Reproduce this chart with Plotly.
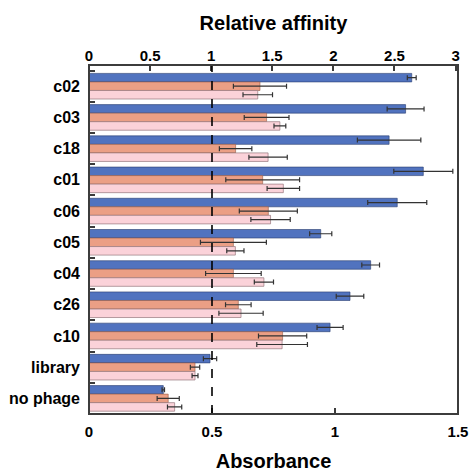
import plotly.graph_objects as go

categories = ["c02", "c03", "c18", "c01", "c06", "c05", "c04", "c26", "c10", "library", "no phage"]

blue_vals = [1.312, 1.287, 1.220, 1.359, 1.253, 0.942, 1.145, 1.061, 0.980, 0.492, 0.302]
blue_err = [0.018, 0.075, 0.129, 0.120, 0.120, 0.045, 0.036, 0.056, 0.053, 0.027, 0.005]

orange_vals = [0.695, 0.722, 0.596, 0.706, 0.729, 0.587, 0.587, 0.607, 0.787, 0.431, 0.322]
orange_err = [0.108, 0.091, 0.066, 0.150, 0.118, 0.134, 0.113, 0.052, 0.098, 0.019, 0.045]

pink_vals = [0.686, 0.776, 0.728, 0.790, 0.738, 0.595, 0.711, 0.618, 0.785, 0.431, 0.348]
pink_err = [0.060, 0.024, 0.078, 0.066, 0.080, 0.035, 0.039, 0.090, 0.103, 0.012, 0.029]

bottom_ticks = [0, 0.5, 1, 1.5]
bottom_labels = ["0", "0.5", "1", "1.5"]
top_ticks = [0, 0.5, 1, 1.5, 2, 2.5, 3]
top_labels = ["0", "0.5", "1", "1.5", "2", "2.5", "3"]
threshold = 0.5

FONT = "Liberation Sans, Arial, sans-serif"
frame_col = "#3c3c3c"

series = [
    (blue_vals, blue_err, "#5173bf", "rgba(40,60,110,0.6)"),
    (orange_vals, orange_err, "#eb9f85", "rgba(150,90,70,0.6)"),
    (pink_vals, pink_err, "#fbd2d9", "rgba(150,120,125,0.7)"),
]

fig = go.Figure()
for vals, errs, col, lcol in series:
    fig.add_trace(go.Bar(
        y=categories, x=vals, orientation="h",
        marker=dict(color=col, line=dict(color=lcol, width=1)),
        error_x=dict(type="data", array=errs, visible=True,
                     color="#333333", thickness=1.2, width=2.5),
        showlegend=False,
    ))

# invisible trace to activate top axis
fig.add_trace(go.Scatter(x=[0, 3], y=[categories[0], categories[0]], xaxis="x2",
                         mode="markers", marker=dict(opacity=0), showlegend=False,
                         hoverinfo="skip"))

fig.add_shape(type="line", xref="x", yref="paper", x0=threshold, x1=threshold,
              y0=0, y1=1, line=dict(color="black", width=1.6, dash="dash"),
              layer="above")
fig.add_shape(type="rect", xref="paper", yref="paper", x0=0, x1=1, y0=0, y1=1,
              line=dict(color=frame_col, width=2), layer="above")

fig.update_layout(
    width=470, height=472,
    margin=dict(l=89, r=12, t=65, b=58, autoexpand=False),
    paper_bgcolor="white", plot_bgcolor="white",
    barmode="group", bargap=0.18, bargroupgap=0,
    font=dict(family=FONT, size=15, color="black", weight="bold"),
    xaxis=dict(range=[0, 1.5], tickvals=bottom_ticks, ticktext=bottom_labels,
               ticks="inside", ticklen=6, tickwidth=1.5, tickcolor=frame_col,
               showline=False, showgrid=False, automargin=False,
               zeroline=False, side="bottom", ticklabelstandoff=7,
               tickfont=dict(family=FONT, size=15, weight="bold"),
               title=dict(text="Absorbance", standoff=16,
                          font=dict(family=FONT, size=20, weight="bold"))),
    xaxis2=dict(range=[0, 3.02], tickvals=top_ticks, ticktext=top_labels,
                overlaying="x", side="top", anchor="y", automargin=False,
                ticks="inside", ticklen=6, tickwidth=1.5, tickcolor=frame_col,
                showline=False, showgrid=False,
                zeroline=False,
                tickfont=dict(family=FONT, size=15, weight="bold"),
                title=dict(text="Relative affinity", standoff=11,
                           font=dict(family=FONT, size=20, weight="bold"))),
    yaxis=dict(type="category", autorange="reversed", tickson="boundaries",
               ticks="inside", ticklen=6, tickwidth=1.5, tickcolor=frame_col,
               showline=False, automargin=False,
               showgrid=False, zeroline=False, ticklabelstandoff=8,
               tickfont=dict(family=FONT, size=16, weight="bold")),
)

fig.write_html("out.html", config={"displayModeBar": False},
               post_script="document.body.style.margin='0';")
